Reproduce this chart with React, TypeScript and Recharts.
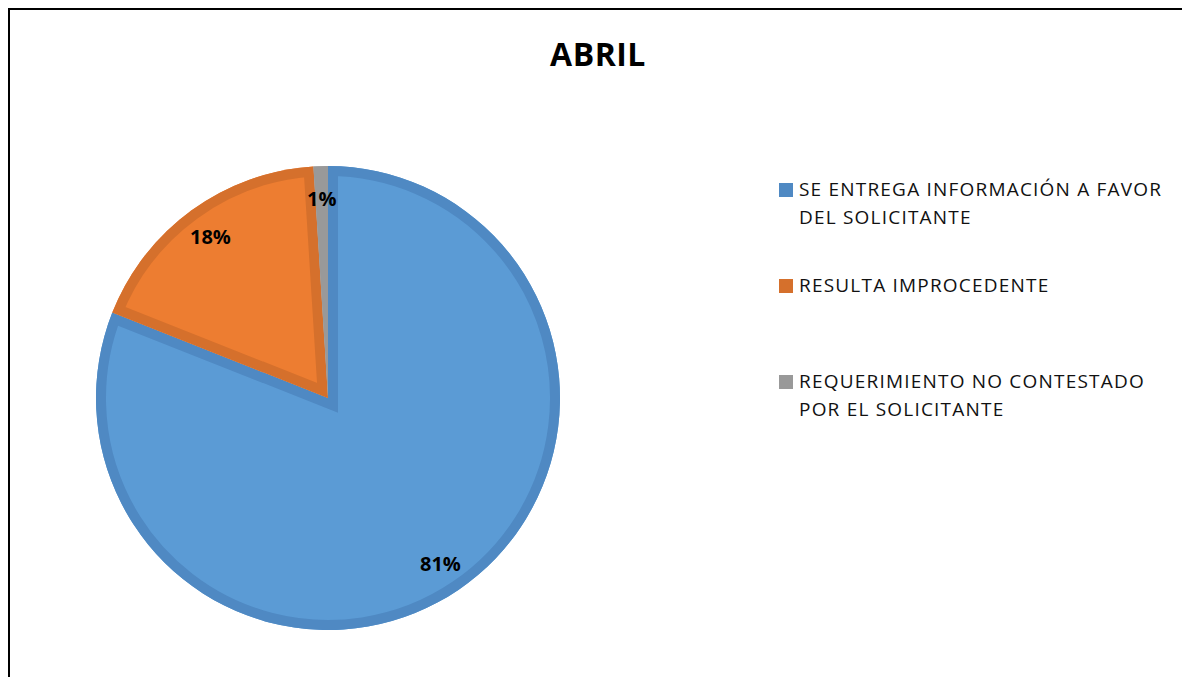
import React from "react";
import { PieChart, Pie, Cell, Legend, Sector } from "recharts";

const CHART_TITLE = "ABRIL";
const SLICE_NAMES = [
  "SE ENTREGA INFORMACIÓN A FAVOR DEL SOLICITANTE",
  "RESULTA IMPROCEDENTE",
  "REQUERIMIENTO NO CONTESTADO POR EL SOLICITANTE",
];
const SLICE_VALUES = [81, 18, 1];
const FILL_COLORS = ["#5B9BD5", "#ED7D31", "#A0A0A0"];
const EDGE_COLORS = ["#4F89C3", "#D5702C", "#999999"];

const FONT = "'Open Sans', 'Noto Sans', sans-serif";

const pieData = SLICE_NAMES.map((name, i) => ({
  name,
  value: SLICE_VALUES[i],
  fill: FILL_COLORS[i],
  edge: EDGE_COLORS[i],
}));

// sector with its border drawn on the inside only (like the office chart)
const InnerStrokeSector = (props: any) => {
  const id = `clip-slice-${props.index}`;
  return (
    <g>
      <defs>
        <clipPath id={id}>
          <Sector {...props} stroke="none" />
        </clipPath>
      </defs>
      <Sector {...props} fill={props.payload.fill} stroke="none" />
      <Sector
        {...props}
        fill="none"
        stroke={props.payload.edge}
        strokeWidth={20}
        clipPath={`url(#${id})`}
      />
    </g>
  );
};

const RADIAN = Math.PI / 180;

const renderPercent = ({ cx, cy, midAngle, outerRadius, percent }: any) => {
  const r = outerRadius * 0.862;
  const x = cx + r * Math.cos(-midAngle * RADIAN);
  const y = cy + r * Math.sin(-midAngle * RADIAN);
  return (
    <text
      x={x}
      y={y}
      fill="#000"
      textAnchor="middle"
      dominantBaseline="central"
      style={{ fontFamily: FONT, fontWeight: 700, fontSize: 20 }}
    >
      {`${Math.round(percent * 100)}%`}
    </text>
  );
};

const LegendList = () => (
  <div style={{ fontFamily: FONT, fontSize: 19, color: "#111", letterSpacing: 1.2 }}>
    {pieData.map((d) => (
      <div key={d.name} style={{ display: "flex", height: 96, alignItems: "flex-start" }}>
        <span
          style={{
            width: 14,
            height: 14,
            background: d.edge,
            marginTop: 8,
            marginRight: 6,
            flex: "0 0 14px",
          }}
        />
        <span style={{ lineHeight: "28px", width: 370 }}>{d.name}</span>
      </div>
    ))}
  </div>
);

export default function App() {
  return (
    <div
      style={{
        position: "fixed",
        left: 8,
        top: 8,
        width: 1174,
        height: 669,
        background: "#fff",
        overflow: "hidden",
      }}
    >
      <div style={{ position: "absolute", left: 0, top: 0, width: 1174, height: 2, background: "#000" }} />
      <div style={{ position: "absolute", left: 0, top: 0, width: 2, height: 669, background: "#000" }} />
      <div
        style={{
          position: "absolute",
          left: 590,
          top: 26,
          transform: "translateX(-50%)",
          fontFamily: FONT,
          fontWeight: 700,
          fontSize: 32,
          lineHeight: "40px",
          color: "#000",
          letterSpacing: 0.5,
        }}
      >
        {CHART_TITLE}
      </div>
      <div style={{ position: "absolute", left: 2, top: 2 }}>
        <PieChart width={1100} height={660} margin={{ top: 0, right: 0, bottom: 0, left: 0 }}>
          <Pie
            data={pieData}
            dataKey="value"
            nameKey="name"
            cx={318}
            cy={388}
            outerRadius={232}
            startAngle={90}
            endAngle={-270}
            paddingAngle={0}
            labelLine={false}
            label={renderPercent}
            shape={InnerStrokeSector}
            isAnimationActive={false}
          >
            {pieData.map((d, i) => (
              <Cell key={`cell-${i}`} fill={d.fill} />
            ))}
          </Pie>
          <Legend
            layout="vertical"
            align="right"
            verticalAlign="top"
            content={<LegendList />}
            wrapperStyle={{ left: 769, top: 165, width: 390 }}
          />
        </PieChart>
      </div>
    </div>
  );
}
